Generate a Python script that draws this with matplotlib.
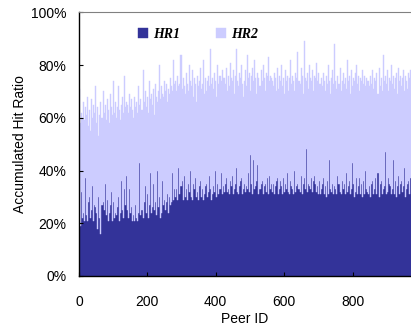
import numpy as np
import matplotlib
matplotlib.use("Agg")
from matplotlib import pyplot as plt
from matplotlib.ticker import FuncFormatter

# each value covers 3 consecutive peers (about one pixel column of the original)
hr1 = [
    27, 19, 32, 22, 24, 21, 37, 23, 21, 28, 30, 22, 25, 34, 21, 27, 26, 24, 18, 30, 22, 16, 27, 28, 25, 35, 23, 29, 21, 24, 27, 32, 21, 28, 22, 24, 23, 26, 30, 21, 24, 36, 25, 22, 33, 27, 38,
    25, 22, 33, 24, 26, 21, 23, 21, 27, 22, 21, 24, 43, 23, 25, 22, 28, 34, 24, 31, 22, 27, 39, 24, 26, 35, 25, 28, 23, 40, 26, 30, 22, 24, 36, 27, 29, 25, 28, 31, 24, 30, 27, 28, 39, 29, 33,
    30, 33, 29, 41, 31, 34, 36, 29, 38, 30, 33, 29, 35, 32, 40, 30, 29, 35, 33, 37, 30, 32, 29, 34, 36, 30, 33, 29, 31, 34, 35, 30, 32, 38, 33, 29, 31, 34, 32, 40, 30, 35, 31, 33, 39, 31, 34,
    32, 35, 37, 32, 33, 31, 36, 34, 38, 31, 33, 35, 41, 32, 31, 34, 36, 37, 31, 33, 35, 32, 34, 33, 39, 32, 46, 35, 31, 44, 33, 34, 36, 42, 31, 33, 35, 36, 31, 34, 35, 32, 37, 31, 38, 33, 35,
    32, 35, 31, 34, 36, 37, 31, 33, 36, 34, 31, 37, 32, 35, 33, 39, 32, 31, 36, 34, 33, 31, 40, 32, 34, 35, 33, 32, 38, 31, 35, 37, 33, 48, 32, 35, 34, 33, 37, 32, 36, 38, 35, 32, 34, 31, 36,
    31, 33, 35, 37, 31, 34, 30, 36, 31, 44, 33, 32, 35, 31, 34, 33, 31, 38, 35, 32, 31, 36, 33, 35, 31, 39, 32, 34, 36, 31, 33, 43, 35, 30, 32, 37, 31, 34, 37, 31, 35, 30, 36, 31, 40, 33, 32,
    31, 34, 30, 35, 36, 31, 33, 37, 31, 39, 30, 35, 36, 31, 33, 34, 47, 31, 32, 37, 35, 34, 31, 33, 44, 31, 36, 30, 34, 38, 31, 35, 36, 32, 34, 41, 30, 33, 35, 36, 31, 37,
]

# top of the stack (HR1 + HR2)
accumulated = [
    71, 58, 62, 60, 66, 59, 64, 61, 68, 57, 63, 55, 67, 60, 65, 62, 72, 58, 64, 53, 61, 66, 60, 70, 62, 65, 59, 67, 63, 58, 69, 64, 61, 74, 62, 66, 60, 64, 72, 63, 59, 65, 68, 62, 76, 64, 66,
    65, 62, 69, 64, 67, 63, 60, 68, 64, 66, 62, 72, 65, 67, 63, 78, 66, 70, 64, 68, 62, 74, 67, 69, 65, 71, 61, 73, 68, 66, 70, 80, 67, 72, 69, 68, 74, 70, 73, 66, 71, 69, 75, 72, 70, 82, 73,
    74, 70, 76, 72, 73, 84, 71, 75, 72, 69, 77, 73, 70, 80, 74, 72, 78, 68, 75, 73, 66, 76, 72, 74, 79, 71, 73, 82, 69, 75, 70, 74, 76, 72, 86, 73, 75, 71, 77, 74, 68, 80, 73, 76, 74, 78, 75,
    75, 73, 79, 70, 76, 72, 81, 75, 74, 78, 69, 76, 86, 74, 72, 77, 75, 80, 73, 68, 74, 78, 72, 84, 75, 77, 70, 76, 79, 74, 82, 75, 69, 77, 75, 72, 78, 74, 80, 75, 70, 77, 76, 83, 74, 76, 75,
    74, 72, 77, 75, 70, 79, 71, 76, 74, 80, 72, 75, 69, 78, 74, 76, 70, 75, 82, 73, 76, 74, 70, 77, 75, 85, 74, 73, 79, 76, 69, 89, 75, 74, 77, 71, 80, 75, 74, 78, 70, 76, 75, 81, 74, 77, 73,
    73, 75, 72, 77, 74, 70, 76, 73, 80, 74, 69, 75, 78, 73, 88, 74, 71, 76, 73, 79, 70, 74, 77, 73, 75, 71, 82, 74, 76, 69, 78, 72, 75, 74, 77, 80, 73, 76, 70, 75, 74, 78, 73, 76, 72, 75, 74,
    74, 72, 76, 73, 78, 71, 75, 74, 77, 69, 79, 72, 75, 70, 84, 74, 76, 73, 78, 70, 75, 74, 80, 73, 76, 71, 75, 77, 69, 79, 74, 76, 72, 75, 78, 70, 76, 74, 71, 77, 75, 78,
]

hr1 = np.array(hr1, dtype=float)
hr2 = np.array(accumulated, dtype=float) - hr1
peer_id = np.arange(len(hr1)) * 3

plt.rcParams['font.family'] = ['Liberation Sans', 'DejaVu Sans']

fig = plt.figure(figsize=(4.11, 3.27), dpi=100)
ax = fig.add_axes([0.192, 0.156, 0.808, 0.806])

ax.bar(peer_id, hr1, width=3, align='edge', color='#333399',
       edgecolor='#333399', linewidth=0.3, label='HR1')
ax.bar(peer_id, hr2, width=3, bottom=hr1, align='edge', color='#CCCCFF',
       edgecolor='#CCCCFF', linewidth=0.3, label='HR2')

ax.set_xlim(0, 971)
ax.set_ylim(0, 100)
ax.set_xticks([0, 200, 400, 600, 800])
ax.set_yticks([0, 20, 40, 60, 80, 100])
ax.yaxis.set_major_formatter(FuncFormatter(lambda v, p: '%d%%' % v))
ax.tick_params(direction='in', length=3, width=0.8, labelsize=10, colors='black')
ax.tick_params(axis='y', pad=9)
ax.tick_params(axis='x', pad=14)

ax.spines['right'].set_visible(False)
ax.spines['top'].set_color('#808080')
ax.spines['top'].set_linewidth(0.8)
ax.spines['left'].set_linewidth(1.0)
ax.spines['bottom'].set_linewidth(1.0)

ax.set_xlabel('Peer ID', fontsize=10, labelpad=2)
ax.set_ylabel('Accumulated Hit Ratio', fontsize=10, labelpad=2.5)

leg = ax.legend(loc='upper left', bbox_to_anchor=(0.14, 0.99), ncol=2, frameon=False,
                handlelength=0.7, handleheight=0.7, handletextpad=0.4, columnspacing=2.6,
                prop={'family': 'Liberation Serif', 'weight': 'bold', 'style': 'italic', 'size': 10})

fig.savefig('out.png', dpi=100)
